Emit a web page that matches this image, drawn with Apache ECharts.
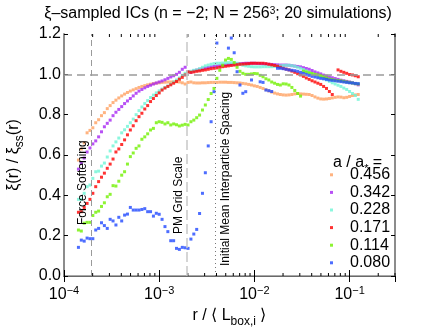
<!DOCTYPE html>
<html>
<head>
<meta charset="utf-8">
<script src="https://cdn.jsdelivr.net/npm/echarts@6/dist/echarts.min.js"></script>
<style>
html, body { margin: 0; padding: 0; background: #fff; }
#myChart { width: 436px; height: 328px; }
</style>
</head>
<body>
<div id="myChart"></div>
<script>
// r / <L_box,i> bin centres (log spaced)
var rVals = [
	1.418e-4, 1.520e-4, 1.630e-4, 1.748e-4, 1.874e-4, 2.009e-4, 2.154e-4, 2.310e-4, 2.477e-4, 2.656e-4,
	2.848e-4, 3.054e-4, 3.275e-4, 3.511e-4, 3.765e-4, 4.037e-4, 4.329e-4, 4.642e-4, 4.977e-4, 5.337e-4,
	5.722e-4, 6.136e-4, 6.579e-4, 7.055e-4, 7.565e-4, 8.111e-4, 8.698e-4, 9.326e-4,
	1.000e-3, 1.072e-3, 1.150e-3, 1.233e-3, 1.322e-3, 1.418e-3, 1.520e-3, 1.630e-3, 1.748e-3, 1.874e-3,
	2.009e-3, 2.154e-3, 2.310e-3, 2.477e-3, 2.656e-3, 2.848e-3, 3.054e-3, 3.275e-3, 3.511e-3, 3.765e-3,
	4.037e-3, 4.329e-3, 4.642e-3, 4.977e-3, 5.337e-3, 5.722e-3, 6.136e-3, 6.579e-3, 7.055e-3, 7.565e-3,
	8.111e-3, 8.698e-3, 9.326e-3,
	1.000e-2, 1.072e-2, 1.150e-2, 1.233e-2, 1.322e-2, 1.418e-2, 1.520e-2, 1.630e-2, 1.748e-2, 1.874e-2,
	2.009e-2, 2.154e-2, 2.310e-2, 2.477e-2, 2.656e-2, 2.848e-2, 3.054e-2, 3.275e-2, 3.511e-2, 3.765e-2,
	4.037e-2, 4.329e-2, 4.642e-2, 4.977e-2, 5.337e-2, 5.722e-2, 6.136e-2, 6.579e-2, 7.055e-2, 7.565e-2,
	8.111e-2, 8.698e-2, 9.326e-2,
	1.000e-1, 1.072e-1, 1.150e-1, 1.233e-1
];

// xi(r)/xi_ss(r) for each a/a*
var a0456 = [
	0.575, 0.63, 0.66, 0.71, 0.722, 0.735, 0.76, 0.775, 0.795, 0.81,
	0.83, 0.845, 0.86, 0.872, 0.883, 0.893, 0.902, 0.91, 0.917, 0.923,
	0.929, 0.935, 0.94, 0.944, 0.948, 0.951, 0.954, 0.956, 0.958, 0.96,
	0.961, 0.962, 0.962, 0.963, 0.963, 0.962, 0.958, 0.952, 0.96, 0.962,
	0.958, 0.957, 0.957, 0.958, 0.958, 0.959, 0.96, 0.96, 0.96, 0.961,
	0.961, 0.961, 0.96, 0.96, 0.959, 0.958, 0.957, 0.955, 0.953, 0.95,
	0.947, 0.943, 0.94, 0.935, 0.93, 0.924, 0.918, 0.912, 0.907, 0.903,
	0.9, 0.898, 0.897, 0.898, 0.9, 0.903, 0.905, 0.903, 0.902, 0.901,
	0.9, 0.895, 0.888, 0.882, 0.878, 0.877, 0.878, 0.88, 0.883, 0.886,
	0.888, 0.887, 0.884, 0.886, 0.89, 0.895, 0.898, 0.9
];
var a0342 = [
	0.53, 0.56, 0.585, 0.615, 0.635, 0.655, 0.67, 0.69, 0.715, 0.74,
	0.757, 0.773, 0.795, 0.812, 0.826, 0.84, 0.855, 0.868, 0.88, 0.893,
	0.906, 0.917, 0.925, 0.933, 0.94, 0.946, 0.952, 0.957, 0.962, 0.967,
	0.973, 0.98, 0.987, 0.993, 1.0, 1.01, 1.025, 1.035, 1.012, 1.01,
	1.017, 1.021, 1.025, 1.028, 1.031, 1.034, 1.037, 1.039, 1.041, 1.043,
	1.045, 1.047, 1.049, 1.05, 1.051, 1.052, 1.053, 1.054, 1.055, 1.055,
	1.055, 1.055, 1.054, 1.053, 1.052, 1.051, 1.05, 1.049, 1.048, 1.047,
	1.046, 1.046, 1.046, 1.045, 1.043, 1.041, 1.039, 1.037, 1.033, 1.029,
	1.025, 1.019, 1.012, 1.007, 1.002, 0.996, 0.991, 0.987, 0.983, 0.979,
	0.975, 0.971, 0.968, 0.965, 0.962, 0.958, 0.953, 0.948
];
var a0228 = [
	0.38, 0.38, 0.41, 0.443, 0.451, 0.484, 0.517, 0.52, 0.545, 0.56,
	0.59, 0.62, 0.645, 0.665, 0.684, 0.71, 0.725, 0.742, 0.76, 0.778,
	0.80, 0.82, 0.838, 0.855, 0.87, 0.885, 0.897, 0.908, 0.918, 0.927,
	0.935, 0.942, 0.952, 0.962, 0.972, 0.982, 0.995, 1.005, 1.012, 1.015,
	1.02, 1.022, 1.028, 1.035, 1.042, 1.046, 1.05, 1.053, 1.055, 1.055,
	1.056, 1.057, 1.058, 1.058, 1.057, 1.055, 1.05, 1.045, 1.042, 1.04,
	1.038, 1.037, 1.037, 1.037, 1.038, 1.038, 1.038, 1.038, 1.039, 1.04,
	1.042, 1.044, 1.045, 1.045, 1.043, 1.04, 1.035, 1.03, 1.024, 1.017,
	1.01, 1.002, 0.996, 0.99, 0.985, 0.978, 0.972, 0.965, 0.958, 0.952,
	0.946, 0.94, 0.932, 0.925, 0.915, 0.905, 0.895, 0.876
];
var a0171 = [
	0.316, 0.319, 0.34, 0.36, 0.38, 0.41, 0.443, 0.468, 0.49, 0.51,
	0.534, 0.555, 0.58, 0.615, 0.63, 0.652, 0.675, 0.70, 0.724, 0.745,
	0.77, 0.79, 0.807, 0.828, 0.845, 0.865, 0.88, 0.895, 0.908, 0.922,
	0.932, 0.94, 0.948, 0.956, 0.965, 0.976, 0.985, 0.997, 1.012, 1.01,
	1.012, 1.015, 1.017, 1.02, 1.022, 1.025, 1.028, 1.03, 1.032, 1.035,
	1.038, 1.04, 1.042, 1.044, 1.046, 1.048, 1.05, 1.051, 1.052, 1.053,
	1.055, 1.055, 1.055, 1.055, 1.055, 1.053, 1.05, 1.047, 1.044, 1.04,
	1.035, 1.03, 1.026, 1.022, 1.016, 1.01, 1.003, 0.997, 0.99, 0.982,
	0.975, 0.968, 0.962, 0.956, 0.95, 0.94, 0.93, 0.915, 0.9, null,
	1.022, 1.015, 1.01, 1.005, 0.999, 0.997, 0.993, 0.988
];
var a0114 = [
	0.228, 0.223, 0.262, 0.266, 0.266, 0.30, 0.316, 0.322, 0.345, 0.363,
	0.393, 0.405, 0.448, 0.446, 0.47, 0.50, 0.517, 0.555, 0.592, 0.61,
	0.633, 0.645, 0.678, 0.69, 0.705, 0.724, 0.732, 0.76, 0.765, 0.762,
	0.754, 0.76, 0.749, 0.754, 0.75, 0.744, 0.748, 0.752, 0.749, 0.765,
	0.773, 0.785, 0.798, 0.823, 0.848, 0.875, 0.905, 0.93, 0.98, 1.02,
	1.045, 1.071, 1.079, 1.074, 1.058, 1.035, 1.015, 1.005, 1.0, 1.0,
	1.002, 1.004, 1.003, 0.995, 0.988, 0.978, 0.972, 0.962, 0.956, 0.95,
	0.947, 0.953, 0.952, 0.947, 0.935, 0.92, 0.905, 0.892, 1.016, 1.012,
	1.008, 1.004, 1.0, 0.997, 0.993, 0.988, 0.982, 0.977, 0.974, 0.971,
	0.969, 0.968, 0.965, 0.962, 0.96, 0.957, 0.954, 0.952
];
var a0080 = [
	0.142, 0.178, 0.173, 0.188, 0.185, 0.185, 0.228, 0.236, 0.264, 0.25,
	0.236, 0.281, 0.273, 0.253, 0.291, 0.273, 0.302, 0.307, 0.34, 0.327,
	0.327, 0.327, 0.33, 0.334, 0.319, 0.319, 0.297, 0.311, 0.306, 0.281,
	0.245, 0.22, 0.175, 0.175, 0.137, 0.132, 0.142, 0.14, 0.137, 0.183,
	0.208, 0.231, 0.31, 0.41, 0.512, 0.645, 0.765, 0.914, 1.155, null,
	null, null, 1.13, 1.18, 1.107, 1.013, 0.947, 0.906, 0.914, null,
	0.972, null, null, 0.963, 0.96, 0.922, 0.919, 0.915, null, 1.03,
	1.03, 1.028, 1.025, 1.022, 1.02, 1.018, 1.015, 1.01, 1.005, 1.0,
	0.995, 0.99, 0.987, 0.983, 0.98, 0.978, 0.975, 0.972, 0.97, 0.968,
	0.966, 0.964, 0.962, 0.96, 0.958, 0.957, 0.955, 0.954
];

var seriesNames = ['0.456', '0.342', '0.228', '0.171', '0.114', '0.080'];
var seriesValues = [a0456, a0342, a0228, a0171, a0114, a0080];
var seriesColors = ['#ffa060', '#a626f2', '#6ef5d6', '#ff0000', '#70f000', '#2048ff'];

// characteristic scales
var forceSoftening = 1.953e-4;
var pmGridScale = 1.953e-3;
var interparticle = 3.906e-3;

// log minor ticks
var minorTicks = [
	2e-4, 3e-4, 4e-4, 5e-4, 6e-4, 7e-4, 8e-4, 9e-4,
	2e-3, 3e-3, 4e-3, 5e-3, 6e-3, 7e-3, 8e-3, 9e-3,
	2e-2, 3e-2, 4e-2, 5e-2, 6e-2, 7e-2, 8e-2, 9e-2,
	2e-1, 3e-1
];

var xMin = 1e-4, xMax = 0.3;
var yMin = 0, yMax = 1.2;
var font = 'Liberation Sans, Arial, sans-serif';
var frameGray = '#8c8c8c';

var myChart = echarts.init(document.getElementById('myChart'));

var series = [];
for (var i = 0; i < seriesNames.length; i++) {
	var pts = [];
	for (var j = 0; j < rVals.length; j++) {
		if (seriesValues[i][j] != null) {
			pts.push([rVals[j], seriesValues[i][j]]);
		}
	}
	series.push({
		name: seriesNames[i],
		type: 'scatter',
		symbol: 'rect',
		symbolSize: 3,
		clip: true,
		itemStyle: { color: seriesColors[i] },
		data: pts
	});
}

function vLine(x, text, pos, dist, lineStyle) {
	return [
		{
			coord: [x, yMin],
			lineStyle: lineStyle,
			label: {
				show: true, formatter: text, position: pos, distance: dist,
				fontSize: 12, fontFamily: font, color: '#000'
			}
		},
		{ coord: [x, yMax] }
	];
}

// reference lines go on the first series
series[0].markLine = {
	silent: true,
	symbol: ['none', 'none'],
	animation: false,
	data: [
		{
			yAxis: 1.0,
			lineStyle: { color: '#9a9a9a', type: [8, 5], width: 1.5 },
			label: { show: false }
		},
		vLine(forceSoftening, 'Force Softening', 'insideStartTop', [51, 3],
			{ color: '#9a9a9a', type: [6, 4], width: 1 }),
		vLine(pmGridScale, 'PM Grid Scale', 'insideStartTop', [42, 2],
			{ color: '#c8c8c8', type: [10, 4], width: 1.5 }),
		vLine(interparticle, 'Initial Mean Interparticle Spacing', 'insideStartBottom', [10, 4],
			{ color: '#777', type: [1, 3], width: 1 })
	]
};

// minor ticks on bottom and top frame
series.push({
	type: 'custom',
	silent: true,
	data: minorTicks.map(function (v) { return [v, yMin]; }),
	renderItem: function (params, api) {
		var b = api.coord([api.value(0), yMin]);
		var t = api.coord([api.value(0), yMax]);
		return {
			type: 'group',
			children: [
				{ type: 'line', shape: { x1: b[0], y1: b[1], x2: b[0], y2: b[1] - 3 }, style: { stroke: '#000', lineWidth: 1 } },
				{ type: 'line', shape: { x1: t[0], y1: t[1], x2: t[0], y2: t[1] + 3 }, style: { stroke: '#000', lineWidth: 1 } }
			]
		};
	}
});

function powLabel(v) {
	var lg = Math.log10(v);
	var e = Math.round(lg);
	if (Math.abs(lg - e) > 1e-6) return '';
	return '{b|10}{s|\u2212' + (-e) + '}';
}

// main text on top, subscript pushed to the bottom of a taller line
var subRich = {
	m: { fontSize: 16, lineHeight: 16, verticalAlign: 'top', fontFamily: font, color: '#000' },
	s: { fontSize: 12, lineHeight: 20, verticalAlign: 'bottom', fontFamily: font, color: '#000' }
};

var option = {
	animation: false,
	backgroundColor: '#fff',
	textStyle: { fontFamily: font },
	title: [
		{
			text: '\u03be\u2013sampled ICs (n = \u22122; N = 256{s|3}; 20 simulations)',
			left: 'center',
			top: 1,
			textStyle: {
				fontSize: 16, fontWeight: 'normal', color: '#000', fontFamily: font,
				rich: {
					s: { fontSize: 10, verticalAlign: 'top', lineHeight: 10, fontFamily: font }
				}
			}
		},
		{
			text: '{m|a / a}{s|*}{m| =}',
			left: 328,
			top: 150,
			textStyle: {
				fontSize: 16, fontWeight: 'normal', color: '#000', fontFamily: font,
				rich: {
					m: { fontSize: 16, lineHeight: 16, verticalAlign: 'top', fontFamily: font, color: '#000' },
					s: { fontSize: 11, lineHeight: 19, verticalAlign: 'bottom', fontFamily: font, color: '#000' }
				}
			}
		}
	],
	legend: {
		data: seriesNames,
		orient: 'vertical',
		left: 325,
		top: 161,
		icon: 'rect',
		itemWidth: 3,
		itemHeight: 3,
		itemGap: 0,
		selectedMode: false,
		textStyle: {
			fontSize: 16, color: '#000', fontFamily: font,
			lineHeight: 17.6, padding: [0, 0, 0, 12]
		}
	},
	grid: { left: 64, right: 41, top: 34, bottom: 52, outerBoundsMode: 'none', containLabel: false },
	xAxis: [
		{
			type: 'log',
			logBase: 10,
			min: xMin,
			max: xMax,
			name: '{m|r / \u27e8 L}{s|box,i}{m| \u27e9}',
			nameLocation: 'middle',
			nameGap: 20,
			nameTextStyle: { fontSize: 16, color: '#000', fontFamily: font, rich: subRich },
			axisLine: { lineStyle: { color: '#000', width: 1 } },
			axisTick: { inside: true, length: 6, lineStyle: { color: '#000' } },
			splitLine: { show: false },
			axisLabel: {
				color: '#000',
				margin: 9,
				showMaxLabel: false,
				formatter: powLabel,
				rich: {
					b: { fontSize: 16, fontFamily: font, lineHeight: 20 },
					s: { fontSize: 11, fontFamily: font, verticalAlign: 'top', lineHeight: 8 }
				}
			}
		},
		{
			type: 'log',
			logBase: 10,
			min: xMin,
			max: xMax,
			position: 'top',
			axisLine: { lineStyle: { color: frameGray, width: 1.5 } },
			axisTick: { inside: true, length: 6, lineStyle: { color: '#000' } },
			splitLine: { show: false },
			axisLabel: { show: false }
		}
	],
	yAxis: [
		{
			type: 'value',
			min: yMin,
			max: yMax,
			interval: 0.2,
			name: '{m|\u03be(r) / \u03be}{s|ss}{m|(r)}',
			nameLocation: 'middle',
			nameRotate: 90,
			nameGap: 38,
			nameTextStyle: { fontSize: 16, color: '#000', fontFamily: font, rich: subRich },
			axisLine: { show: true, lineStyle: { color: frameGray, width: 2 } },
			axisTick: { show: true, inside: true, length: 4, lineStyle: { color: '#000' } },
			splitLine: { show: false },
			axisLabel: {
				color: '#000', fontSize: 16, fontFamily: font, margin: 3,
				formatter: function (v) { return v.toFixed(1); }
			}
		},
		{
			type: 'value',
			min: yMin,
			max: yMax,
			interval: 0.2,
			position: 'right',
			axisLine: { show: true, lineStyle: { color: frameGray, width: 2 } },
			axisTick: { show: true, inside: true, length: 4, lineStyle: { color: '#000' } },
			splitLine: { show: false },
			axisLabel: { show: false }
		}
	],
	series: series
};

myChart.setOption(option);
</script>
</body>
</html>
